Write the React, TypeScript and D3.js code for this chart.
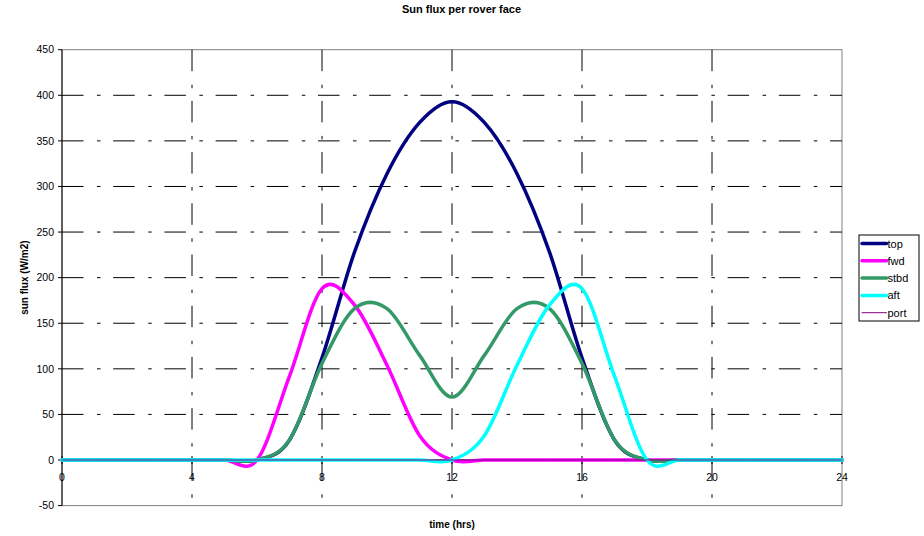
import React from "react";
import * as d3 from "d3";

const hours = d3.range(0, 25);
const topFlux = [0, 0, 0, 0, 0, 0, 0, 22, 112, 228, 314, 370, 393, 370, 314, 228, 112, 22, 0, 0, 0, 0, 0, 0, 0];
const fwdFlux = [0, 0, 0, 0, 0, 0, 0, 92, 188, 170, 104, 27, 0, 0, 0, 0, 0, 0, 0, 0, 0, 0, 0, 0, 0];
const stbdFlux = [0, 0, 0, 0, 0, 0, 0, 22, 106, 166, 166, 115, 69, 115, 166, 166, 106, 22, 0, 0, 0, 0, 0, 0, 0];
const aftFlux = [0, 0, 0, 0, 0, 0, 0, 0, 0, 0, 0, 0, 0, 27, 104, 170, 188, 92, 0, 0, 0, 0, 0, 0, 0];
const portFlux = [0, 0, 0, 0, 0, 0, 0, 0, 0, 0, 0, 0, 0, 0, 0, 0, 0, 0, 0, 0, 0, 0, 0, 0, 0];

const seriesNames = ["top", "fwd", "stbd", "aft", "port"];
const seriesColors = ["#000080", "#FF00FF", "#339966", "#00FFFF", "#800080"];
const seriesWidths = [3.5, 3.5, 3.5, 3.5, 1];
const seriesValues = [topFlux, fwdFlux, stbdFlux, aftFlux, portFlux];

const xTicks = [0, 4, 8, 12, 16, 20, 24];
const yTicks = [-50, 0, 50, 100, 150, 200, 250, 300, 350, 400, 450];

const W = 924;
const H = 536;
const L = 62, R = 842, T = 49.7, B = 505.6;
const font = "'Liberation Sans', Arial, sans-serif";
const dash = "21.5,13.5,3.5,12.7";

export default function App() {
  const x = d3.scaleLinear().domain([0, 24]).range([L, R]);
  const y = d3.scaleLinear().domain([-50, 450]).range([B, T]);
  const line = (vals: number[]) =>
    d3
      .line<number>()
      .x((_, i) => x(hours[i]))
      .y((v) => y(v))
      .curve(d3.curveCardinal.tension(0))(vals) || "";

  return (
    <svg
      width={W}
      height={H}
      style={{ position: "absolute", left: 0, top: 0, background: "#fff" }}
      fontFamily={font}
    >
      <rect x={0} y={0} width={W} height={H} fill="#fff" />
      {/* plot border */}
      <rect x={L} y={T} width={R - L} height={B - T} fill="#fff" stroke="#808080" strokeWidth={1} />
      {/* horizontal grid */}
      {yTicks
        .filter((t) => t > -50 && t < 450 && t !== 0)
        .map((t) => (
          <line key={"h" + t} x1={L} x2={R} y1={y(t)} y2={y(t)} stroke="#000" strokeWidth={1} strokeDasharray={dash} />
        ))}
      {/* vertical grid */}
      {xTicks
        .filter((t) => t > 0 && t < 24)
        .map((t) => (
          <line key={"v" + t} x1={x(t)} x2={x(t)} y1={T} y2={B} stroke="#000" strokeWidth={1} strokeDasharray={dash} />
        ))}
      {/* y axis */}
      <line x1={L} x2={L} y1={T} y2={B} stroke="#000" strokeWidth={1} />
      {yTicks.map((t) => (
        <g key={"yt" + t}>
          <line x1={L - 4} x2={L} y1={y(t)} y2={y(t)} stroke="#000" strokeWidth={1} />
          <text x={54} y={y(t) + 3.7} textAnchor="end" fontSize={10.5} fill="#000">
            {t}
          </text>
        </g>
      ))}
      {/* x axis at 0 */}
      <line x1={L} x2={R} y1={y(0)} y2={y(0)} stroke="#000" strokeWidth={1} />
      {xTicks.map((t) => (
        <g key={"xt" + t}>
          <line x1={x(t)} x2={x(t)} y1={y(0) - 4} y2={y(0) + 4} stroke="#000" strokeWidth={1} />
          <text x={x(t)} y={480.5} textAnchor="middle" fontSize={10.5} fill="#000">
            {t}
          </text>
        </g>
      ))}
      {/* series */}
      {seriesValues.map((vals, i) => (
        <path
          key={seriesNames[i]}
          d={line(vals)}
          fill="none"
          stroke={seriesColors[i]}
          strokeWidth={seriesWidths[i]}
          strokeLinejoin="round"
          strokeLinecap="round"
        />
      ))}
      {/* titles */}
      <text x={461.5} y={13} textAnchor="middle" fontSize={11} fontWeight="bold" fill="#000">
        Sun flux per rover face
      </text>
      <text x={452} y={528} textAnchor="middle" fontSize={10} fontWeight="bold" fill="#000">
        time (hrs)
      </text>
      <text
        transform={`translate(28,${(T + B) / 2}) rotate(-90)`}
        textAnchor="middle"
        fontSize={10}
        fontWeight="bold"
        fill="#000"
      >
        sun flux (W/m2)
      </text>
      {/* legend */}
      <rect x={859} y={235} width={60} height={86} fill="#fff" stroke="#000" strokeWidth={1} />
      {seriesNames.map((n, i) => {
        const ly = 243.5 + i * 17.3;
        return (
          <g key={"lg" + n}>
            <line x1={862} x2={886.5} y1={ly} y2={ly} stroke={seriesColors[i]} strokeWidth={seriesWidths[i]} strokeLinecap="round" />
            <text x={887.5} y={ly + 4} fontSize={11} fill="#000">
              {n}
            </text>
          </g>
        );
      })}
    </svg>
  );
}
